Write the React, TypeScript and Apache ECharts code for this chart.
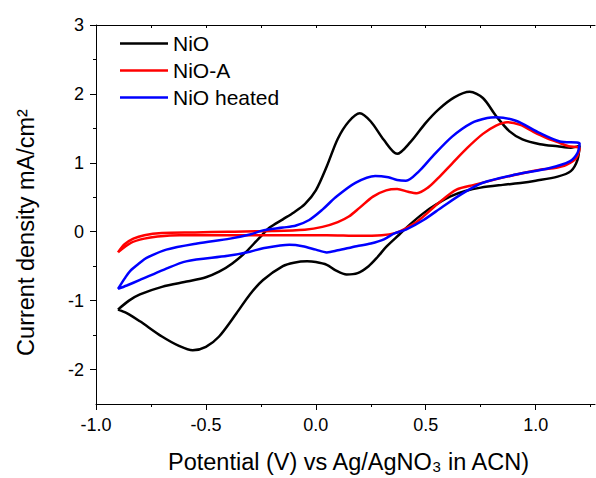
import React, { useEffect, useRef } from "react";
import * as echarts from "echarts";

// Cyclic voltammograms, [potential (V), current density (mA/cm²)], traced
// around each loop: anodic sweep left → right, then cathodic sweep back.
const nioAnodic: number[][] = [
  [-0.9, -1.13], [-0.85, -1.0], [-0.8, -0.91], [-0.7, -0.8], [-0.58, -0.72],
  [-0.5, -0.66], [-0.44, -0.58], [-0.38, -0.46], [-0.32, -0.3], [-0.26, -0.1],
  [-0.21, 0.06], [-0.15, 0.18], [-0.1, 0.28], [-0.05, 0.4], [0.0, 0.6],
  [0.05, 0.95], [0.1, 1.35], [0.15, 1.6], [0.2, 1.72], [0.25, 1.6],
  [0.31, 1.33], [0.37, 1.13], [0.43, 1.3], [0.5, 1.58], [0.56, 1.78],
  [0.63, 1.95], [0.7, 2.03], [0.76, 1.94], [0.82, 1.68], [0.88, 1.46],
  [0.94, 1.34], [1.02, 1.27], [1.1, 1.24], [1.16, 1.22], [1.2, 1.25],
];
const nioCathodic: number[][] = [
  [1.2, 1.25], [1.19, 1.04], [1.16, 0.88], [1.1, 0.8], [1.0, 0.74],
  [0.94, 0.71], [0.85, 0.68], [0.75, 0.64], [0.68, 0.59], [0.61, 0.51],
  [0.55, 0.4], [0.49, 0.27], [0.43, 0.11], [0.38, -0.04], [0.32, -0.22],
  [0.28, -0.37], [0.24, -0.5], [0.19, -0.6], [0.14, -0.62], [0.09, -0.56],
  [0.05, -0.48], [0.0, -0.44], [-0.04, -0.43], [-0.1, -0.45], [-0.15, -0.5],
  [-0.24, -0.7], [-0.3, -0.91], [-0.36, -1.18], [-0.44, -1.52], [-0.5, -1.67],
  [-0.56, -1.72], [-0.62, -1.66], [-0.7, -1.52], [-0.8, -1.3], [-0.86, -1.18],
  [-0.9, -1.13],
];

const nioAAnodic: number[][] = [
  [-0.9, -0.3], [-0.87, -0.18], [-0.83, -0.1], [-0.78, -0.05], [-0.7, -0.02],
  [-0.55, -0.01], [-0.4, 0.0], [-0.2, 0.01], [-0.05, 0.03], [0.03, 0.07],
  [0.1, 0.14], [0.15, 0.22], [0.2, 0.35], [0.26, 0.51], [0.32, 0.6],
  [0.37, 0.62], [0.42, 0.58], [0.46, 0.56], [0.51, 0.64], [0.56, 0.79],
  [0.62, 0.99], [0.69, 1.22], [0.76, 1.42], [0.82, 1.54], [0.87, 1.59],
  [0.93, 1.55], [0.99, 1.45], [1.05, 1.36], [1.1, 1.3], [1.15, 1.24],
  [1.2, 1.21],
];
const nioACathodic: number[][] = [
  [1.2, 1.21], [1.185, 1.07], [1.14, 0.97], [1.08, 0.92], [1.02, 0.9],
  [0.87, 0.8], [0.72, 0.68], [0.64, 0.61], [0.56, 0.42], [0.47, 0.17],
  [0.41, 0.05], [0.36, -0.02], [0.3, -0.05], [0.2, -0.06], [0.05, -0.05],
  [-0.1, -0.05], [-0.3, -0.05], [-0.5, -0.05], [-0.62, -0.05], [-0.72, -0.07],
  [-0.78, -0.1], [-0.84, -0.16], [-0.9, -0.3],
];

const heatedAnodic: number[][] = [
  [-0.9, -0.83], [-0.87, -0.68], [-0.845, -0.57], [-0.8, -0.45], [-0.77, -0.38],
  [-0.68, -0.26], [-0.54, -0.17], [-0.39, -0.1], [-0.3, -0.04], [-0.24, 0.02],
  [-0.15, 0.06], [-0.09, 0.09], [-0.03, 0.17], [0.03, 0.32], [0.09, 0.5],
  [0.18, 0.71], [0.27, 0.81], [0.33, 0.79], [0.37, 0.75], [0.41, 0.74],
  [0.47, 0.88], [0.53, 1.09], [0.62, 1.38], [0.71, 1.58], [0.78, 1.65],
  [0.82, 1.66], [0.91, 1.61], [1.02, 1.43], [1.11, 1.31], [1.2, 1.28],
];
const heatedCathodic: number[][] = [
  [1.2, 1.28], [1.19, 1.14], [1.155, 1.02], [1.06, 0.92], [0.91, 0.83],
  [0.76, 0.71], [0.67, 0.56], [0.58, 0.37], [0.49, 0.17], [0.41, 0.03],
  [0.36, -0.02], [0.31, -0.11], [0.25, -0.17], [0.185, -0.21], [0.1, -0.27],
  [0.05, -0.3], [0.0, -0.26], [-0.06, -0.21], [-0.12, -0.19], [-0.24, -0.24],
  [-0.3, -0.29], [-0.4, -0.35], [-0.59, -0.43], [-0.69, -0.55], [-0.8, -0.7],
  [-0.86, -0.78], [-0.9, -0.83],
];

const seriesNames = ["NiO", "NiO-A", "NiO heated"];
const seriesColors = ["#000000", "#ff0000", "#0000ff"];

const potentialTicks = [-1, -0.5, 0, 0.5, 1];
const potentialQuarterTicks = [-1, -0.75, -0.5, -0.25, 0, 0.25, 0.5, 0.75, 1, 1.25];
const potentialMinorTicks = [-0.75, -0.25, 0.25, 0.75, 1.25];
const currentTicks = [-2, -1, 0, 1, 2, 3];
const currentMinorTicks = [-1.5, -0.5, 0.5, 1.5, 2.5];

const FONT = "'Liberation Sans', Arial, Helvetica, sans-serif";
const X_MIN = -1;
const X_MAX = 1.27;
const Y_MIN = -2.5;
const Y_MAX = 3;

export default function App() {
  const ref = useRef<HTMLDivElement>(null);

  useEffect(() => {
    if (!ref.current) return;
    const chart = echarts.init(ref.current, undefined, { renderer: "svg" });

    const gridBox = { left: 96, top: 25, right: 1, bottom: 74, outerBoundsMode: "none" };
    const black = "#000000";

    const loops = [
      nioAnodic.concat(nioCathodic.slice(1)),
      nioAAnodic.concat(nioACathodic.slice(1)),
      heatedAnodic.concat(heatedCathodic.slice(1)),
    ];

    chart.setOption({
      animation: false,
      backgroundColor: "#ffffff",
      textStyle: { fontFamily: FONT },
      grid: [gridBox, gridBox],
      legend: {
        orient: "vertical",
        left: 115,
        top: 28,
        icon: "rect",
        itemWidth: 48,
        itemHeight: 2.5,
        itemGap: 6,
        data: seriesNames,
        textStyle: { fontFamily: FONT, fontSize: 21, color: black, lineHeight: 21 },
      },
      xAxis: [
        {
          type: "value",
          gridIndex: 0,
          position: "bottom",
          min: X_MIN,
          max: X_MAX,
          splitLine: { show: false },
          axisLine: { show: true, onZero: false, lineStyle: { color: black, width: 1 } },
          axisTick: { show: true, inside: false, length: 6, customValues: potentialTicks, lineStyle: { color: black, width: 1 } },
          axisLabel: {
            show: true,
            customValues: potentialTicks,
            formatter: (v: number) => v.toFixed(1),
            fontSize: 18,
            fontFamily: FONT,
            color: black,
            margin: 12,
          },
          name: "Potential (V) vs Ag/AgNO{sub|3} in ACN)",
          nameLocation: "middle",
          nameGap: 46,
          nameTextStyle: {
            fontSize: 23.5,
            fontFamily: FONT,
            color: black,
            padding: [0, 0, 0, 6],
            rich: {
              sub: { fontSize: 15, fontFamily: FONT, color: black, verticalAlign: "bottom", lineHeight: 15, padding: [12, 0, 0, 0] },
            },
          },
        },
        {
          type: "value",
          gridIndex: 0,
          position: "top",
          min: X_MIN,
          max: X_MAX,
          splitLine: { show: false },
          axisLine: { show: true, onZero: false, lineStyle: { color: black, width: 1 } },
          axisTick: { show: true, inside: true, length: 3, customValues: potentialQuarterTicks, lineStyle: { color: black, width: 1 } },
          axisLabel: { show: false },
        },
        {
          type: "value",
          gridIndex: 1,
          position: "bottom",
          min: X_MIN,
          max: X_MAX,
          splitLine: { show: false },
          axisLine: { show: false, onZero: false },
          axisTick: { show: true, inside: false, length: 3, customValues: potentialMinorTicks, lineStyle: { color: black, width: 1 } },
          axisLabel: { show: false },
        },
      ],
      yAxis: [
        {
          type: "value",
          gridIndex: 0,
          position: "left",
          min: Y_MIN,
          max: Y_MAX,
          splitLine: { show: false },
          axisLine: { show: true, onZero: false, lineStyle: { color: black, width: 1 } },
          axisTick: { show: true, inside: false, length: 6, customValues: currentTicks, lineStyle: { color: black, width: 1 } },
          axisLabel: {
            show: true,
            customValues: currentTicks,
            formatter: (v: number) => String(v),
            fontSize: 18,
            fontFamily: FONT,
            color: black,
            margin: 12,
          },
          name: "Current density mA/cm²",
          nameLocation: "middle",
          nameGap: 58,
          nameTextStyle: { fontSize: 23.5, fontFamily: FONT, color: black, padding: [0, 36, 0, 0] },
        },
        {
          type: "value",
          gridIndex: 1,
          position: "left",
          min: Y_MIN,
          max: Y_MAX,
          splitLine: { show: false },
          axisLine: { show: false, onZero: false },
          axisTick: { show: true, inside: false, length: 3, customValues: currentMinorTicks, lineStyle: { color: black, width: 1 } },
          axisLabel: { show: false },
        },
      ],
      series: seriesNames.map((name, i) => ({
        name,
        type: "line",
        xAxisIndex: 0,
        yAxisIndex: 0,
        data: loops[i],
        symbol: "none",
        showSymbol: false,
        smooth: 0.3,
        color: seriesColors[i],
        lineStyle: { color: seriesColors[i], width: 2.5 },
        z: 2 + i,
      })),
    });

    return () => chart.dispose();
  }, []);

  return (
    <div
      ref={ref}
      style={{ position: "fixed", left: 0, top: 0, width: 596, height: 478, background: "#ffffff" }}
    />
  );
}
